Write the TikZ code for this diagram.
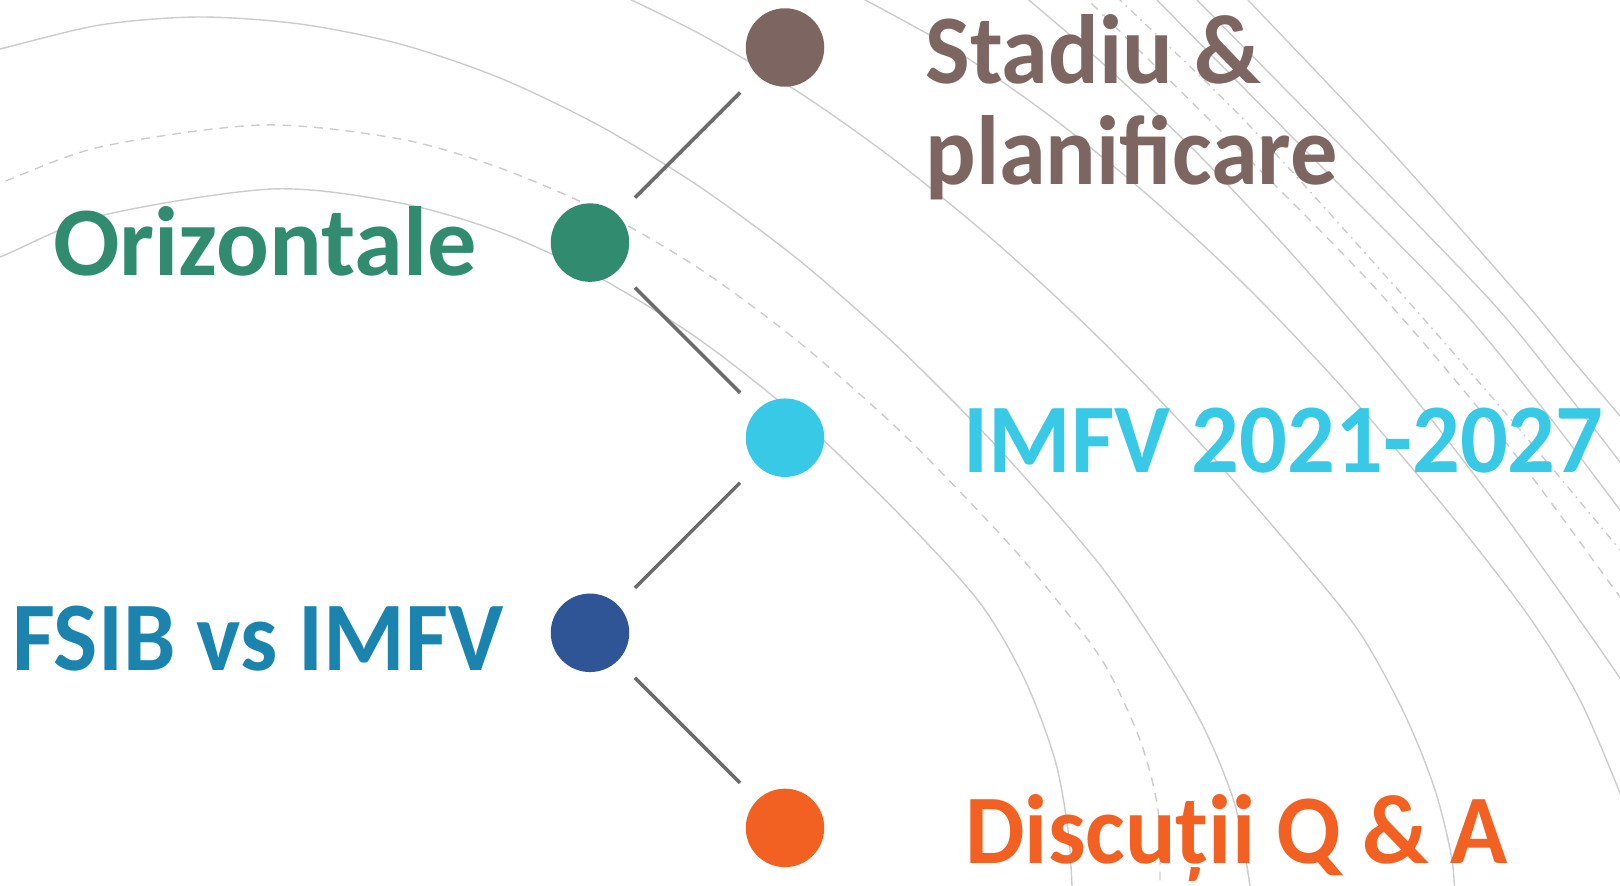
\documentclass[tikz,border=0pt]{standalone}
\usepackage{fontspec}
\setmainfont{Carlito}
\usepackage{xcolor}

\definecolor{stadiucol}{RGB}{125,102,97}
\definecolor{orizcol}{RGB}{49,139,111}
\definecolor{imfvcol}{RGB}{56,201,230}
\definecolor{fsibdot}{RGB}{47,85,151}
\definecolor{fsibcol}{RGB}{26,132,174}
\definecolor{qacol}{RGB}{242,97,34}
\definecolor{linkgray}{RGB}{107,107,107}
\definecolor{bggray}{RGB}{204,204,204}

\begin{document}
\begin{tikzpicture}[x=0.02cm,y=-0.02cm,
	bgline/.style={line width=0.8pt, draw=bggray},
	bgdash/.style={bgline, dash pattern=on 5pt off 4pt},
	bgdashdot/.style={bgline, dash pattern=on 4.5pt off 3pt on 1pt off 3pt},
	bullet/.style={circle, minimum size=1.57cm, inner sep=0},
	connector/.style={line width=2pt, draw=linkgray, shorten <=0.48cm, shorten >=0.48cm},
	lbl/.style={inner sep=0, font=\fontsize{56}{57.3}\selectfont\bfseries\addfontfeature{FakeStretch=#1}},
	lbl/.default=1]
	\useasboundingbox (0,0) rectangle (1620,886);
	\clip (0,0) rectangle (1620,886);

	% background arcs
	\draw[bgline] plot[smooth] coordinates {(-40,58) (0,49) (100,25) (199,17) (300,24) (400,44) (500,78) (600,126) (700,187) (800,261) (900,349) (1000,450) (1100,565) (1165,660) (1205,730) (1235,805) (1250,886) (1252,920)};
	\draw[bgdash] plot[smooth] coordinates {(-40,194) (0,183) (100,147) (262,125) (400,139) (500,168) (600,211) (700,269) (800,343) (900,431) (1000,534) (1060,604) (1105,665) (1140,740) (1158,810) (1160,886) (1159,920)};
	\draw[bgline] plot[smooth] coordinates {(-40,268) (0,257) (100,216) (272,189) (400,203) (500,232) (600,278) (700,340) (800,419) (900,515) (980,603) (1025,680) (1055,760) (1068,830) (1072,886) (1072,920)};
	\draw[bgline] plot[smooth] coordinates {(600,-15) (700,34) (800,93) (900,164) (1000,246) (1100,339) (1200,443) (1300,558) (1360,633) (1405,715) (1435,790) (1452,860) (1456,920)};
	\draw[bgline] plot[smooth] coordinates {(850,-8) (950,47) (1050,116) (1150,197) (1250,290) (1350,396) (1450,514) (1530,618) (1580,700) (1620,793) (1640,845)};
	\draw[bgline] plot[smooth] coordinates {(1000,-24) (1100,61) (1200,156) (1300,263) (1400,380) (1500,509) (1600,649) (1650,723)};
	\draw[bgdash] plot[smooth] coordinates {(1070,-18) (1088,0) (1240,150) (1377,290) (1500,435) (1620,597) (1640,625)};
	\draw[bgdashdot] plot[smooth] coordinates {(1102,-18) (1120,0) (1247,123) (1407,300) (1520,430) (1620,550) (1640,575)};
	\draw[bgline] plot[smooth] coordinates {(1139,-18) (1157,0) (1300,145) (1453,300) (1540,405) (1620,510) (1640,537)};
	\draw[bgline] plot[smooth] coordinates {(1179,-18) (1197,0) (1340,145) (1490,300) (1560,385) (1620,462) (1640,488)};
	\draw[bgline] plot[smooth] coordinates {(1231,-18) (1248,0) (1390,150) (1523,300) (1570,357) (1620,416) (1640,440)};

	% dots
	\node[bullet, fill=stadiucol] (stadiu) at (785,47.5) {};
	\node[bullet, fill=orizcol] (oriz) at (590,242.6) {};
	\node[bullet, fill=imfvcol] (imfv) at (785,437.7) {};
	\node[bullet, fill=fsibdot] (fsib) at (590,632.8) {};
	\node[bullet, fill=qacol] (qa) at (785,827.9) {};

	% connectors
	\draw[connector] (oriz) -- (stadiu);
	\draw[connector] (oriz) -- (imfv);
	\draw[connector] (fsib) -- (imfv);
	\draw[connector] (fsib) -- (qa);

	% labels
	\node[lbl=0.96, text=stadiucol, anchor=base west, align=left] (stadiutxt) at (925,184) {Stadiu \&\\planificare};
	\node[lbl, text=orizcol, anchor=base east] (oriztxt) at (477,275) {Orizontale};
	\node[lbl=0.96, text=imfvcol, anchor=base west] (imfvtxt) at (963,472) {IMFV 2021-2027};
	\node[lbl=0.95, text=fsibcol, anchor=base east] (fsibtxt) at (504,670) {FSIB vs IMFV};
	\node[lbl=0.96, text=qacol, anchor=base west] (qatxt) at (965,863) {Discuții Q \& A};
\end{tikzpicture}
\end{document}
